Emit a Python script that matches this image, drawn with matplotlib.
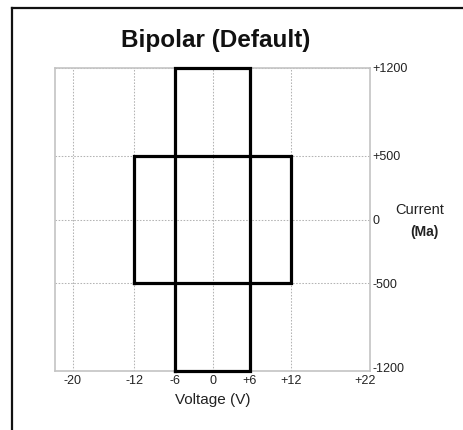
import matplotlib
matplotlib.use("Agg")
import matplotlib.pyplot as plt
from matplotlib.lines import Line2D
import matplotlib.transforms as mtransforms
import numpy as np

# data
voltage_ticks = [-20, -12, -6, 0, 6, 12, 22]
voltage_labels = ["-20", "-12", "-6", "0", "+6", "+12", "+22"]
current_ticks = [1200, 500, 0, -500, -1200]
current_labels = ["+1200", "+500", "0", "-500", "-1200"]

# operating windows (voltage range, current range)
tall_v = [-6, 6]
tall_i = [-1200, 1200]
wide_v = [-12, 12]
wide_i = [-500, 500]

# the original axes are not linear: piecewise scale between tick values
X_ANCH = [-22, -20, -12, -6, 0, 6, 12, 20, 22]
X_POS = [-157.5, -139.5, -78.5, -37.5, 0, 37.5, 78.5, 139.5, 157.5]
Y_ANCH = [-1200, -500, 0, 500, 1200]
Y_POS = [-151.5, -63.5, 0, 63.5, 151.5]


def _fwd(anch, pos):
    return lambda v: np.interp(v, anch, pos)


def _inv(anch, pos):
    return lambda p: np.interp(p, pos, anch)


def box(ax, xs, ys):
    x0, x1 = xs
    y0, y1 = ys
    ax.plot([x0, x1, x1, x0, x0], [y0, y0, y1, y1, y0], color="black",
            linewidth=2.3, solid_joinstyle="miter", clip_on=False, zorder=5)


plt.rcParams.update({"font.family": ["Liberation Sans", "DejaVu Sans"]})

fig = plt.figure(figsize=(4.63, 4.30), dpi=100)
ax = fig.add_axes([55 / 463, 59 / 430, 315 / 463, 303 / 430])

ax.set_xscale("function", functions=(_fwd(X_ANCH, X_POS), _inv(X_ANCH, X_POS)))
ax.set_yscale("function", functions=(_fwd(Y_ANCH, Y_POS), _inv(Y_ANCH, Y_POS)))
ax.set_xlim(-22, 22)
ax.set_ylim(-1200, 1200)

box(ax, wide_v, wide_i)
box(ax, tall_v, tall_i)

ax.set_xticks(voltage_ticks)
ax.set_xticklabels(voltage_labels)
ax.set_yticks(current_ticks)
ax.set_yticklabels(current_labels)
ax.minorticks_off()
ax.yaxis.tick_right()
ax.tick_params(axis="x", length=0, pad=3, labelsize=9, colors="#222222")
ax.tick_params(axis="y", length=0, pad=2, labelsize=9, colors="#222222")
ax.grid(True, color="#b4b4b4", linestyle=(0, (1.5, 1.5)), linewidth=0.75)
ax.set_axisbelow(True)
for s in ax.spines.values():
    s.set_color("#c4c4c4")
    s.set_linewidth(1.2)

# corner labels nudged apart like in the original
lab = ax.get_xticklabels()[-1]
lab.set_transform(lab.get_transform() + mtransforms.ScaledTranslation(-5 / 100, 0, fig.dpi_scale_trans))
lab = ax.get_yticklabels()[-1]
lab.set_transform(lab.get_transform() + mtransforms.ScaledTranslation(0, 4 / 100, fig.dpi_scale_trans))

ax.set_xlabel("Voltage (V)", fontsize=11, color="#222222", labelpad=4)

fig.text(216 / 463, 1 - 40 / 430, "Bipolar (Default)", fontsize=17.5,
         fontweight="bold", ha="center", va="center", color="#111111")
fig.text(420 / 463, 1 - 210 / 430, "Current", fontsize=10.5,
         ha="center", va="center", color="#222222")
fig.text(424 / 463, 1 - 232 / 430, "(Ma)", fontsize=10,
         fontweight="bold", ha="center", va="center", color="#222222")

# outer frame
fig.add_artist(Line2D([12 / 463, 12 / 463], [0, 1 - 8 / 430], transform=fig.transFigure,
                      color="#111111", linewidth=1.6, solid_capstyle="projecting"))
fig.add_artist(Line2D([12 / 463, 1], [1 - 8 / 430, 1 - 8 / 430], transform=fig.transFigure,
                      color="#111111", linewidth=1.6, solid_capstyle="projecting"))

fig.savefig("out.png", dpi=100, facecolor="white")
